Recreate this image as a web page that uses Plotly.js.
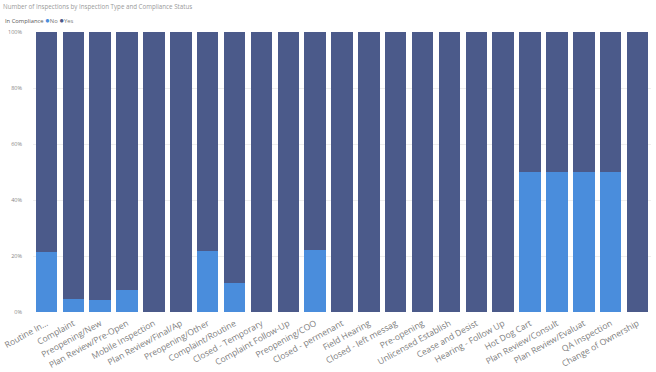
<!DOCTYPE html>
<html>
<head>
<meta charset="utf-8">
<script src="https://cdn.plot.ly/plotly-3.0.1.min.js"></script>
<style>html,body{margin:0;padding:0;background:#fff;}#chart{width:656px;height:372px;}</style>
</head>
<body>
<div id="chart"></div>
<script>
const categories = ["Routine In...","Complaint","Preopening/New","Plan Review/Pre-Open","Mobile Inspection","Plan Review/Final/Ap","Preopening/Other","Complaint/Routine","Closed - Temporary","Complaint Follow-Up","Preopening/COO","Closed - permenant","Field Hearing","Closed - left messag","Pre-opening","Unlicensed Establish","Cease and Desist","Hearing - Follow Up","Hot Dog Cart","Plan Review/Consult","Plan Review/Evaluat","QA Inspection","Change of Ownership"];
const noPct  = [21.4, 4.8, 4.4, 8.0, 0, 0, 21.8, 10.2, 0, 0, 22.3, 0, 0, 0, 0, 0, 0, 0, 50, 50, 50, 50, 0];
const yesPct = [78.6, 95.2, 95.6, 92.0, 100, 100, 78.2, 89.8, 100, 100, 77.7, 100, 100, 100, 100, 100, 100, 100, 50, 50, 50, 50, 100];
const yTicks = [0, 20, 40, 60, 80, 100];
const seriesNames = ["No", "Yes"];
const legendTitle = "In Compliance";

const colNo = "#4a8ddc", colYes = "#4b5a8a";
const fontFam = "'Open Sans', 'Noto Sans', sans-serif";

const data = [
  {type:"bar", name:seriesNames[0], x:categories, y:noPct, marker:{color:colNo}, showlegend:false},
  {type:"bar", name:seriesNames[1], x:categories, y:yesPct, marker:{color:colYes}, showlegend:false}
];

const legendText = "<span style='color:#555'>" + legendTitle + "</span> " +
  "<span style='color:" + colNo + ";font-size:8px'>●</span>" + seriesNames[0] + " " +
  "<span style='color:" + colYes + ";font-size:8px'>●</span>" + seriesNames[1];

const layout = {
  width:656, height:372,
  margin:{l:33, r:5, t:32, b:60},
  paper_bgcolor:"#fff", plot_bgcolor:"#fff",
  barmode:"stack", bargap:0.2,
  showlegend:false,
  font:{family:fontFam, color:"#777", size:7},
  title:{text:"Number of Inspections by Inspection Type and Compliance Status", x:3/656, xanchor:"left", xref:"container", y:1-7/372, yref:"container", yanchor:"middle", font:{family:fontFam, size:6.2, color:"#9a9a9a"}},
  annotations:[{text:legendText, xref:"paper", yref:"paper", x:-30/618, y:1+12/280, xanchor:"left", yanchor:"middle", showarrow:false, font:{family:fontFam, size:5.8, color:"#777"}}],
  xaxis:{type:"category", tickangle:-29, tickfont:{size:8.6, color:"#808080"}, ticklabelstandoff:4, showgrid:false, showline:false, ticks:"", automargin:false},
  yaxis:{range:[0,100], tickvals:yTicks, ticktext:yTicks.map(v=>v+"%"), tickfont:{size:5.5, color:"#888"}, ticklabelstandoff:10, showgrid:true, gridcolor:"#eeeeee", gridwidth:1, zeroline:false, showline:false, ticks:"", automargin:false}
};

Plotly.newPlot("chart", data, layout, {displayModeBar:false, staticPlot:true});
</script>
</body>
</html>
